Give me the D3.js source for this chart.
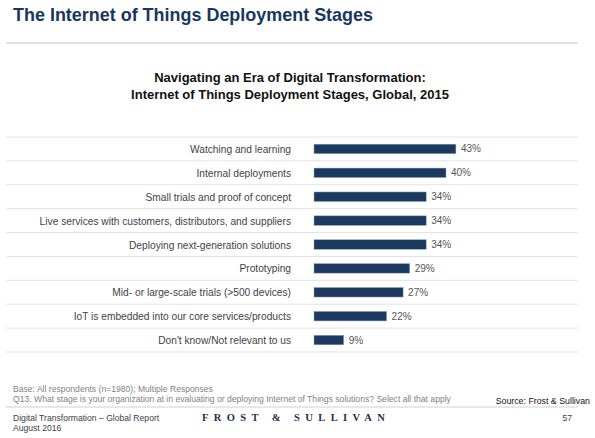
<!DOCTYPE html>
<html>
<head>
<meta charset="utf-8">
<script src="https://cdn.jsdelivr.net/npm/d3@7"></script>
<style>
  body { margin: 0; background: #fff; }
  text { font-family: "Liberation Sans", Arial, sans-serif; }
</style>
</head>
<body>
<div id="container"></div>
<script>
/* CONSTANTS AND GLOBALS */
const width = 595,
  height = 438;

// DATA
const stages = [
  "Watching and learning",
  "Internal  deployments",
  "Small trials and proof of concept",
  "Live services with customers,  distributors,  and suppliers",
  "Deploying next-generation  solutions",
  "Prototyping",
  "Mid- or large-scale trials (>500 devices)",
  "IoT is embedded into our  core services/products",
  "Don't know/Not  relevant  to us"
];
const shares = [43, 40, 34, 34, 34, 29, 27, 22, 9];

const svg = d3.select("#container")
  .append("svg")
  .attr("width", width)
  .attr("height", height);

// HEADER
svg.append("text")
  .attr("x", 13)
  .attr("y", 21)
  .attr("font-size", 19)
  .attr("font-weight", "bold")
  .attr("fill", "#17375e")
  .attr("textLength", 360)
  .attr("lengthAdjust", "spacingAndGlyphs")
  .text("The Internet of Things Deployment Stages");

svg.append("line")
  .attr("x1", 6).attr("x2", 578)
  .attr("y1", 43).attr("y2", 43)
  .attr("stroke", "#d9d9d9")
  .attr("stroke-width", 1.5);

const subtitle = ["Navigating an Era of Digital Transformation:",
  "Internet of Things Deployment Stages, Global, 2015"];
svg.selectAll("text.sub")
  .data(subtitle)
  .join("text")
  .attr("class", "sub")
  .attr("x", 290)
  .attr("y", (d, i) => 82 + i * 17)
  .attr("text-anchor", "middle")
  .attr("font-size", 13)
  .attr("font-weight", "bold")
  .attr("fill", "#111")
  .text(d => d);

// SCALES
const x = d3.scaleLinear()
  .domain([0, 100])
  .range([314, 644]);

const y = d3.scaleBand()
  .domain(stages)
  .range([137, 352]);

const barH = 9.5;

// ROW SEPARATORS
const seps = [137].concat(stages.map(d => y(d) + y.bandwidth()));
svg.selectAll("line.sep")
  .data(seps)
  .join("line")
  .attr("class", "sep")
  .attr("x1", 6).attr("x2", 578)
  .attr("y1", d => d).attr("y2", d => d)
  .attr("stroke", "#e3e3e3")
  .attr("stroke-width", 1);

// BARS
svg.selectAll("rect.bar")
  .data(shares)
  .join("rect")
  .attr("class", "bar")
  .attr("x", x(0))
  .attr("y", (d, i) => y(stages[i]) + y.bandwidth() / 2 - barH / 2)
  .attr("width", d => x(d) - x(0))
  .attr("height", barH)
  .attr("fill", "#1b3a5f")
  .attr("stroke", "#8ea3bd")
  .attr("stroke-width", 0.5);

// CATEGORY LABELS
svg.selectAll("text.cat")
  .data(stages)
  .join("text")
  .attr("class", "cat")
  .attr("x", 291)
  .attr("y", d => y(d) + y.bandwidth() / 2 + 4)
  .attr("text-anchor", "end")
  .attr("font-size", 10.2)
  .attr("fill", "#3f3f3f")
  .text(d => d);

// VALUE LABELS
svg.selectAll("text.val")
  .data(shares)
  .join("text")
  .attr("class", "val")
  .attr("x", d => x(d) + 5)
  .attr("y", (d, i) => y(stages[i]) + y.bandwidth() / 2 + 3.5)
  .attr("font-size", 10)
  .attr("fill", "#555")
  .text(d => d + "%");

// NOTES
const notes = ["Base: All respondents (n=1980);  Multiple Responses",
  "Q13. What stage is your organization  at in evaluating  or deploying Internet  of Things  solutions? Select all that apply"];
svg.selectAll("text.note")
  .data(notes)
  .join("text")
  .attr("class", "note")
  .attr("x", 13)
  .attr("y", (d, i) => 392 + i * 9.5)
  .attr("font-size", 8.6)
  .attr("fill", "#7f7f7f")
  .text(d => d);

svg.append("text")
  .attr("x", 590)
  .attr("y", 404)
  .attr("text-anchor", "end")
  .attr("font-size", 8.8)
  .attr("fill", "#111")
  .text("Source: Frost & Sullivan");

svg.append("line")
  .attr("x1", 6).attr("x2", 578)
  .attr("y1", 407).attr("y2", 407)
  .attr("stroke", "#d0d0d0")
  .attr("stroke-width", 1);

// FOOTER
svg.append("text")
  .attr("x", 13).attr("y", 421)
  .attr("font-size", 8.6)
  .attr("fill", "#404040")
  .text("Digital Transformation  – Global Report");

svg.append("text")
  .attr("x", 13).attr("y", 431)
  .attr("font-size", 8.6)
  .attr("fill", "#404040")
  .text("August 2016");

svg.append("text")
  .attr("x", 202).attr("y", 421)
  .style("font-family", "'Liberation Serif', 'DejaVu Serif', serif")
  .attr("font-size", 10.5)
  .attr("font-weight", "bold")
  .attr("letter-spacing", 5.4)
  .attr("fill", "#1f2f4a")
  .text("FROST  & SULLIVAN");

svg.append("text")
  .attr("x", 572).attr("y", 421)
  .attr("text-anchor", "end")
  .attr("font-size", 8.6)
  .attr("fill", "#404040")
  .text("57");
</script>
</body>
</html>
